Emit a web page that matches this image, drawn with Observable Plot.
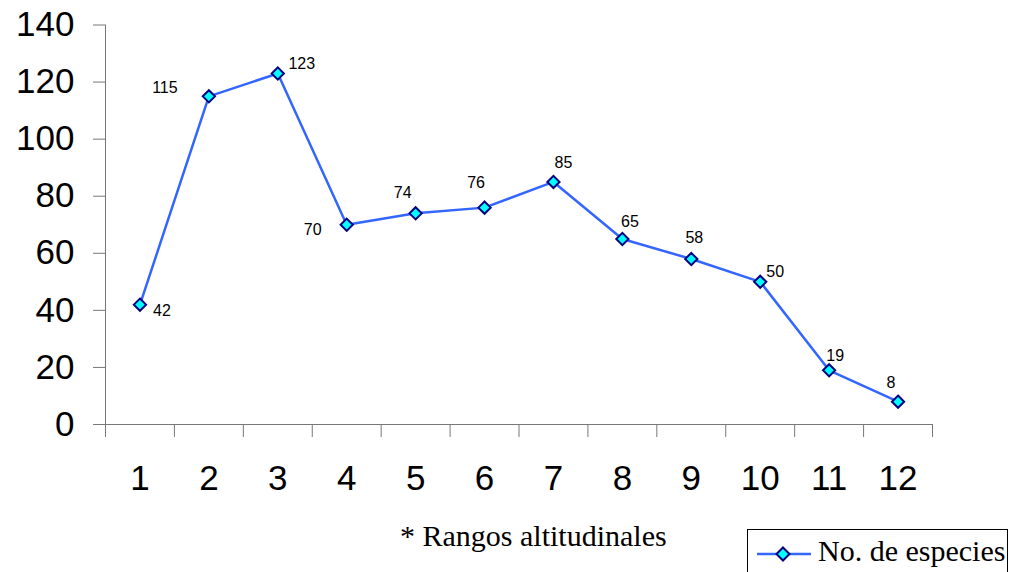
<!DOCTYPE html>
<html>
<head>
<meta charset="utf-8">
<script src="https://cdn.jsdelivr.net/npm/d3@7"></script>
<script src="https://cdn.jsdelivr.net/npm/@observablehq/plot@0.6"></script>
<style>
  html, body { margin: 0; padding: 0; background: #fff; }
  #wrap { position: relative; width: 1015px; height: 572px; overflow: hidden; }
  #caption {
    position: absolute; left: 400px; top: 519px;
    font-family: "Liberation Serif", "Times New Roman", serif; font-size: 30px; color: #000;
    white-space: nowrap;
  }
  #legend {
    position: absolute; left: 747px; top: 529px; width: 261px; height: 60px;
    border: 1px solid #000; box-sizing: border-box; background: #fff;
  }
  #legend svg { position: absolute; left: 0; top: 0; }
  #legend span {
    position: absolute; left: 70px; top: 4px;
    font-family: "Liberation Serif", "Times New Roman", serif; font-size: 30px; color: #000;
    white-space: nowrap;
  }
</style>
</head>
<body>
<div id="wrap">
  <div id="chart"></div>
  <div id="caption"></div>
  <div id="legend"></div>
</div>
<script>
// Altitudinal ranges and number of species recorded in each
const ranges = [1, 2, 3, 4, 5, 6, 7, 8, 9, 10, 11, 12];
const species = [42, 115, 123, 70, 74, 76, 85, 65, 58, 50, 19, 8];
const yTicks = [0, 20, 40, 60, 80, 100, 120, 140];
const seriesName = "No. de especies";
const xTitle = "* Rangos altitudinales";

// Where each value label sits relative to its marker (dx, dy in px)
const labelOffsets = [
  [22, 6], [-44, -8], [24, -10], [-34, 5.5], [-13, -20], [-8.5, -24.5],
  [10, -19], [7.5, -17], [3, -21], [15, -10], [6, -14], [-7, -18.5]
];

const rows = ranges.map((r, i) => ({
  range: r, value: species[i], dx: labelOffsets[i][0], dy: labelOffsets[i][1]
}));

const lineColor = "#3366ff";
const markFill = "#00ffff";
const markStroke = "#000080";
const axisColor = "#777";
const boundaries = d3.range(0.5, ranges.length + 1, 1);

const chart = Plot.plot({
  width: 1015,
  height: 520,
  marginLeft: 105,
  marginRight: 83,
  marginTop: 24.5,
  marginBottom: 96,
  x: { type: "linear", domain: [0.5, ranges.length + 0.5] },
  y: { domain: [0, 140] },
  marks: [
    // y axis with outward ticks
    Plot.axisY({
      ticks: yTicks, tickSize: 12, tickPadding: 19, label: null,
      stroke: axisColor, fill: "#000",
      fontSize: 35, fontFamily: "Liberation Sans, Arial, sans-serif"
    }),
    Plot.ruleX([0.5], { y1: 0, y2: 140, stroke: axisColor }),
    // x axis: tick marks on category boundaries, labels on centres
    Plot.axisX({
      ticks: boundaries, tickSize: 13, tickFormat: () => "", label: null, stroke: axisColor
    }),
    Plot.axisX({
      ticks: ranges, tickSize: 0, tickPadding: 41, label: null, tickFormat: d => String(d),
      fill: "#000", fontSize: 35, fontFamily: "Liberation Sans, Arial, sans-serif"
    }),
    Plot.ruleY([0], { x1: 0.5, x2: ranges.length + 0.5, stroke: axisColor }),
    // series
    Plot.line(rows, { x: "range", y: "value", stroke: lineColor, strokeWidth: 2.5 }),
    Plot.dot(rows, {
      x: "range", y: "value", symbol: "diamond2", r: 5.5,
      fill: markFill, stroke: markStroke, strokeWidth: 2
    }),
    ...rows.map(d => Plot.text([d], {
      x: "range", y: "value", text: r => String(r.value),
      dx: d.dx, dy: d.dy, fontSize: 16, fill: "#000",
      fontFamily: "Liberation Sans, Arial, sans-serif"
    }))
  ]
});
document.getElementById("chart").appendChild(chart);

document.getElementById("caption").textContent = xTitle;

// legend swatch: line with a diamond marker, then the series name
const legend = document.getElementById("legend");
legend.innerHTML = `
  <svg width="70" height="50">
    <line x1="9" x2="63" y1="24" y2="24" stroke="${lineColor}" stroke-width="2.5"></line>
    <path d="M35,17.5 L41.5,24 L35,30.5 L28.5,24 Z" fill="${markFill}" stroke="${markStroke}" stroke-width="2"></path>
  </svg>
  <span></span>`;
legend.querySelector("span").textContent = seriesName;
</script>
</body>
</html>
